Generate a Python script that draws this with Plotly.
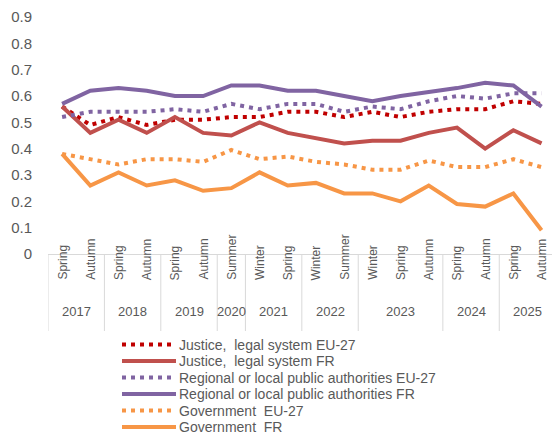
import plotly.graph_objects as go

seasons = ["Spring", "Autumn", "Spring", "Autumn", "Spring", "Autumn", "Summer",
           "Winter", "Spring", "Winter", "Summer", "Winter", "Spring", "Autumn",
           "Spring", "Autumn", "Spring", "Autumn"]
years = ["2017", "2017", "2018", "2018", "2019", "2019", "2020", "2021", "2021",
         "2022", "2022", "2023", "2023", "2023", "2024", "2024", "2025", "2025"]

justice_eu = [0.56, 0.49, 0.52, 0.49, 0.51, 0.51, 0.52, 0.52, 0.54, 0.54, 0.52, 0.54,
              0.52, 0.54, 0.55, 0.55, 0.58, 0.57]
justice_fr = [0.56, 0.46, 0.51, 0.46, 0.52, 0.46, 0.45, 0.50, 0.46, 0.44, 0.42, 0.43,
              0.43, 0.46, 0.48, 0.40, 0.47, 0.42]
regional_eu = [0.52, 0.54, 0.54, 0.54, 0.55, 0.54, 0.57, 0.55, 0.57, 0.57, 0.54, 0.56,
               0.55, 0.58, 0.60, 0.59, 0.61, 0.61]
regional_fr = [0.57, 0.62, 0.63, 0.62, 0.60, 0.60, 0.64, 0.64, 0.62, 0.62, 0.60, 0.58,
               0.60, 0.615, 0.63, 0.65, 0.64, 0.56]
gov_eu = [0.38, 0.36, 0.34, 0.36, 0.36, 0.35, 0.395, 0.36, 0.37, 0.35, 0.34, 0.32,
          0.32, 0.355, 0.33, 0.33, 0.36, 0.33]
gov_fr = [0.38, 0.26, 0.31, 0.26, 0.28, 0.24, 0.25, 0.31, 0.26, 0.27, 0.23, 0.23,
          0.20, 0.26, 0.19, 0.18, 0.23, 0.09]

y_ticks = [0, 0.1, 0.2, 0.3, 0.4, 0.5, 0.6, 0.7, 0.8, 0.9]
y_ticktext = ["0", "0.1", "0.2", "0.3", "0.4", "0.5", "0.6", "0.7", "0.8", "0.9"]

DOT = "4px,5px"
series = [
    ("Justice,  legal system EU-27", justice_eu, "#C00000", DOT),
    ("Justice,  legal system FR", justice_fr, "#C0504D", "solid"),
    ("Regional or local public authorities EU-27", regional_eu, "#8064A2", DOT),
    ("Regional or local public authorities FR", regional_fr, "#8064A2", "solid"),
    ("Government  EU-27", gov_eu, "#F79646", DOT),
    ("Government  FR", gov_fr, "#F79646", "solid"),
]

W, H = 552, 436
ML, MR, MT, MB = 48, 0, 17, 182
PW, PH = W - ML - MR, H - MT - MB


def px_to_paper_x(px):
    return (px - ML) / PW


def px_to_paper_y(py):
    return (H - MB - py) / PH


x = list(range(len(seasons)))
fig = go.Figure()
for name, vals, color, dash in series:
    fig.add_trace(go.Scatter(x=x, y=vals, mode="lines", name=name, showlegend=False,
                             line=dict(color=color, width=4, dash=dash)))

GRAY = "#595959"
annotations = []
shapes = []
for i, s in enumerate(seasons):
    annotations.append(dict(x=i, y=px_to_paper_y(282), xref="x", yref="paper", text=s,
                            textangle=-90, showarrow=False,
                            font=dict(size=12, color=GRAY)))
groups = []
for i, yv in enumerate(years):
    if groups and groups[-1][0] == yv:
        groups[-1][2] = i
    else:
        groups.append([yv, i, i])
for yv, a, b in groups:
    annotations.append(dict(x=(a + b) / 2, y=px_to_paper_y(321), xref="x", yref="paper",
                            text=yv, showarrow=False, font=dict(size=13, color=GRAY)))
    shapes.append(dict(type="line", xref="x", yref="paper", x0=a - 0.5, x1=a - 0.5,
                       y0=0, y1=px_to_paper_y(331), line=dict(color="#D9D9D9", width=1)))

# legend (drawn manually to match the compact row spacing)
row_y = [344.5, 361, 377.5, 394, 410.5, 427]
for (name, vals, color, dash), ry in zip(series, row_y):
    yp = px_to_paper_y(ry)
    shapes.append(dict(type="line", xref="paper", yref="paper",
                       x0=px_to_paper_x(122), x1=px_to_paper_x(176), y0=yp, y1=yp,
                       line=dict(color=color, width=4, dash=dash)))
    annotations.append(dict(x=px_to_paper_x(178), y=yp, xref="paper", yref="paper",
                            text=name, showarrow=False, xanchor="left", yanchor="middle",
                            borderpad=0, font=dict(size=14, color=GRAY)))

fig.update_layout(
    width=W, height=H,
    margin=dict(l=ML, r=MR, t=MT, b=MB, autoexpand=False),
    paper_bgcolor="white", plot_bgcolor="white",
    font=dict(family="Liberation Sans, Arial, sans-serif", color=GRAY),
    xaxis=dict(range=[-0.5, 17.37], showticklabels=False, showgrid=False,
               zeroline=False, showline=True, linecolor="#D9D9D9", linewidth=1,
               ticks="", automargin=False),
    yaxis=dict(range=[0, 0.9], tickvals=y_ticks, ticktext=y_ticktext,
               showgrid=False, zeroline=False, showline=False, ticks="",
               ticklabelstandoff=15, tickfont=dict(size=15, color=GRAY),
               automargin=False),
    showlegend=False,
    annotations=annotations,
    shapes=shapes,
)

fig.write_html(
    "out.html",
    config={"displayModeBar": False},
    post_script="document.body.style.margin='0';document.body.style.padding='0';",
)
